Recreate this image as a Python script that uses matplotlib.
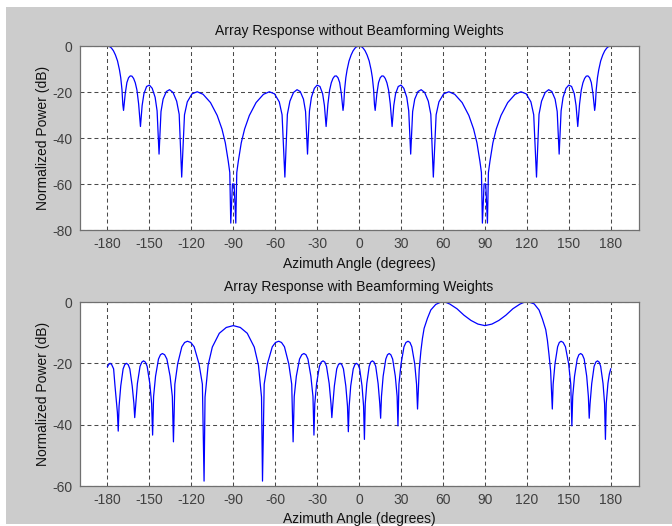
import matplotlib
matplotlib.use('Agg')
import matplotlib.pyplot as plt
from matplotlib.patches import Rectangle

plt.rcParams['font.family'] = ['Liberation Sans', 'DejaVu Sans']
plt.rcParams['axes.unicode_minus'] = False

# values (azimuth in degrees, power in dB)
az_top = [
    -180, -178, -177, -175.7, -174.3, -172.8, -171.4, -170.5, -169.6, -169, -168.5,
    -167.3, -166.1, -164.9, -163.7, -162.5, -161.3, -160.1, -158.9, -157.7, -156.4,
    -155.2, -153.9, -152, -150, -148, -145.9, -144.5, -143.1,
    -141.7, -140.2, -137.9, -135.6, -133.1, -130.5, -128.7, -126.9,
    -124.9, -122.9, -119.5, -115.8, -111.6, -106.3, -101.5, -98.1, -95.7, -93.6,
    -92.5, -91.8, -91.2, -90.6, -89.4, -88.8, -88.2, -87.5,
    -86.4, -84.3, -81.9, -78.5, -73.7, -68.4, -64.2, -60.5, -57.1, -55.1, -53.1,
    -51.3, -49.5, -46.9, -44.4, -42.1, -39.8, -38.3, -36.9,
    -35.5, -34.1, -32, -30, -28, -26.1, -24.8, -23.6,
    -22.3, -21.1, -19.9, -18.7, -17.5, -16.3, -15.1, -13.9, -12.7, -11.5,
    -11, -10.4, -9.5, -8.6, -7.2, -5.7, -4.3, -3, -2,
    0,
    2, 3, 4.3, 5.7, 7.2, 8.6, 9.5, 10.4, 11, 11.5,
    12.7, 13.9, 15.1, 16.3, 17.5, 18.7, 19.9, 21.1, 22.3, 23.6,
    24.8, 26.1, 28, 30, 32, 34.1, 35.5, 36.9,
    38.3, 39.8, 42.1, 44.4, 46.9, 49.5, 51.3, 53.1,
    55.1, 57.1, 60.5, 64.2, 68.4, 73.7, 78.5, 81.9, 84.3, 86.4,
    87.5, 88.2, 88.8, 89.4, 90.6, 91.2, 91.8, 92.5,
    93.6, 95.7, 98.1, 101.5, 106.3, 111.6, 115.8, 119.5, 122.9, 124.9, 126.9,
    128.7, 130.5, 133.1, 135.6, 137.9, 140.2, 141.7, 143.1,
    144.5, 145.9, 148, 150, 152, 153.9, 155.2, 156.4,
    157.7, 158.9, 160.1, 161.3, 162.5, 163.7, 164.9, 166.1, 167.3, 168.5,
    169, 169.6, 170.5, 171.4, 172.8, 174.3, 175.7, 177, 178, 180,
]
pwr_top = [
    0, -0.4, -1.0, -2.1, -3.9, -6.5, -10.4, -13.8, -19.1, -25.5, -28,
    -20.8, -15.9, -13.8, -13.0, -13.1, -14.1, -16.0, -19.2, -25.2, -35,
    -25.9, -20.7, -17.6, -17, -18.4, -22.3, -28.2, -47,
    -28.5, -23.1, -19.8, -19, -20.2, -24, -29.7, -57,
    -29.9, -24.3, -20.8, -19.9, -21, -24.6, -30.2, -36.1, -42.1, -50.1,
    -55, -77, -69, -60, -60, -69, -77, -55,
    -50.1, -42.1, -36.1, -30.2, -24.6, -21, -19.9, -20.8, -24.3, -29.9, -57,
    -29.7, -24, -20.2, -19, -19.8, -23.1, -28.5, -47,
    -28.2, -22.3, -18.4, -17, -17.6, -20.7, -25.9, -35,
    -25.2, -19.2, -16.0, -14.1, -13.1, -13.0, -13.8, -15.9, -20.8, -28,
    -25.5, -19.1, -13.8, -10.4, -6.5, -3.9, -2.1, -1.0, -0.4,
    0,
    -0.4, -1.0, -2.1, -3.9, -6.5, -10.4, -13.8, -19.1, -25.5, -28,
    -20.8, -15.9, -13.8, -13.0, -13.1, -14.1, -16.0, -19.2, -25.2, -35,
    -25.9, -20.7, -17.6, -17, -18.4, -22.3, -28.2, -47,
    -28.5, -23.1, -19.8, -19, -20.2, -24, -29.7, -57,
    -29.9, -24.3, -20.8, -19.9, -21, -24.6, -30.2, -36.1, -42.1, -50.1,
    -55, -77, -69, -60, -60, -69, -77, -55,
    -50.1, -42.1, -36.1, -30.2, -24.6, -21, -19.9, -20.8, -24.3, -29.9, -57,
    -29.7, -24, -20.2, -19, -19.8, -23.1, -28.5, -47,
    -28.2, -22.3, -18.4, -17, -17.6, -20.7, -25.9, -35,
    -25.2, -19.2, -16.0, -14.1, -13.1, -13.0, -13.8, -15.9, -20.8, -28,
    -25.5, -19.1, -13.8, -10.4, -6.5, -3.9, -2.1, -1.0, -0.4, 0,
]

az_bot = [
    -180, -179, -178.1, -177, -175.6, -174.6, -172.9, -172.3,
    -171.7, -170.5, -168.8, -167.6, -166.4, -165.2, -164.0, -162.3, -161.1, -160.5,
    -159.7, -158.6, -156.7, -155.4, -154.2, -152.9, -151.6, -149.7, -148.4, -147.7,
    -147.0, -145.6, -143.5, -142.1, -140.7, -139.1, -137.5, -135.2, -133.6, -132.8,
    -131.8, -129.8, -126.8, -124.8, -122.8, -120.4, -118.0, -114.5, -112.1, -110.9,
    -110.2, -108, -105, -100, -95, -90, -85, -80, -75, -72, -69.8, -69.1,
    -67.9, -65.6, -62.1, -59.8, -57.5, -55.5, -53.4, -50.3, -48.2, -47.2,
    -46.4, -44.9, -42.6, -41.0, -39.5, -38.0, -36.6, -34.5, -33.0, -32.3,
    -31.7, -30.4, -28.4, -27.1, -25.8, -24.5, -23.3, -21.4, -20.1, -19.5,
    -18.9, -17.7, -16.0, -14.8, -13.6, -12.4, -11.2, -9.5, -8.3, -7.7,
    -7.1, -6.0, -4.2, -3.0, -1.9, -0.7, 0.4, 2.1, 3.2, 3.8,
    4.4, 5.5, 7.2, 8.3, 9.5, 10.7, 11.9, 13.6, 14.8, 15.4,
    16.0, 17.2, 19.1, 20.3, 21.5, 22.7, 24.0, 25.9, 27.2, 27.8,
    28.5, 30.0, 32.1, 33.5, 35.0, 36.4, 37.7, 39.8, 41.1, 41.8,
    43.0, 44.2, 45.3, 46.5, 48.9, 51.3, 54.8, 58.4, 60, 62, 65, 70, 75, 80, 85,
    90, 95, 100, 105, 110, 115, 118, 120, 121.6, 125.2, 128.7, 131.1, 133.5,
    134.7, 135.8, 137.0, 138.2,
    138.8, 140.1, 142.0, 143.2, 144.5, 146.0, 147.6, 149.9, 151.4, 152.2,
    152.8, 154.1, 156.0, 157.2, 158.5, 159.7, 161.0, 162.8, 164.0, 164.6,
    165.2, 166.4, 168.1, 169.3, 170.5, 171.7, 172.8, 174.5, 175.6, 176.2,
    176.8, 178, 179, 180,
]
pwr_bot = [
    -21.1, -20.3, -20.0, -20.4, -21.8, -27.4, -36.0, -42.1,
    -34.0, -27.4, -21.8, -20.4, -20.0, -20.4, -21.8, -27.4, -33.0, -37.7,
    -33.2, -26.6, -21.0, -19.6, -19.2, -19.6, -21.0, -26.6, -33.2, -43.4,
    -30.8, -24.2, -18.6, -17.2, -16.8, -17.2, -18.6, -24.2, -30.8, -45.6,
    -26.8, -20.2, -14.6, -13.2, -12.8, -13.2, -14.6, -20.2, -26.8, -58.4,
    -31.0, -20.6, -14.7, -10.2, -8.3, -7.7, -8.3, -10.2, -14.7, -20.6, -31.0, -58.4,
    -26.8, -20.2, -14.6, -13.2, -12.8, -13.2, -14.6, -20.2, -26.8, -45.6,
    -30.8, -24.2, -18.6, -17.2, -16.8, -17.2, -18.6, -24.2, -30.8, -43.4,
    -33.2, -26.6, -21.0, -19.6, -19.2, -19.6, -21.0, -26.6, -33.2, -37.7,
    -34.0, -27.4, -21.8, -20.4, -20.0, -20.4, -21.8, -27.4, -34.0, -42.3,
    -34.0, -27.4, -21.8, -20.4, -20.0, -20.4, -21.8, -27.4, -34.0, -44.8,
    -33.2, -26.6, -21.0, -19.6, -19.2, -19.6, -21.0, -26.6, -33.2, -37.9,
    -30.8, -24.2, -18.6, -17.2, -16.8, -17.2, -18.6, -24.2, -30.8, -40.4,
    -26.8, -20.2, -14.6, -13.2, -12.8, -13.2, -14.6, -20.2, -26.8, -34.9,
    -22.0, -16.0, -11.9, -8.6, -5.3, -2.6, -0.8, -0.05, 0, -0.1, -0.7, -2.2, -4.3, -6.0, -7.2,
    -7.7, -7.2, -6.0, -4.3, -2.2, -0.7, -0.1, 0, -0.05, -0.6, -2.6, -5.5, -9.0,
    -12.5, -17.0, -22.5, -34.9,
    -26.8, -20.2, -14.6, -13.2, -12.8, -13.2, -14.6, -20.2, -26.8, -40.4,
    -30.8, -24.2, -18.6, -17.2, -16.8, -17.2, -18.6, -24.2, -30.8, -37.9,
    -33.2, -26.6, -21.0, -19.6, -19.2, -19.6, -21.0, -26.6, -33.2, -44.8,
    -33.0, -26.5, -23.5, -21.8,
]

az_ticks = list(range(-180, 181, 30))


def draw_panel(ax, az, pwr, title, ylim, yticks):
    ax.plot(az, pwr, color='#0000ff', linewidth=0.9)
    ax.set_xlim(-200, 200)
    ax.set_ylim(*ylim)
    ax.set_xticks(az_ticks)
    ax.set_yticks(yticks)
    ax.grid(True, color='#4a4a4a', linestyle=(0, (3.8, 2.9)), linewidth=0.75)
    ax.tick_params(direction='in', length=0, labelsize=10, colors='#404040', pad=5)
    for s in ax.spines.values():
        s.set_color('#707070')
        s.set_linewidth(0.9)
    ax.set_facecolor('white')
    ax.set_title(title, fontsize=10, color='#111111', pad=8)
    ax.set_xlabel('Azimuth Angle (degrees)', fontsize=10, color='#111111', labelpad=4)
    ax.set_ylabel('Normalized Power (dB)', fontsize=10, color='#111111', labelpad=2)


fig = plt.figure(figsize=(6.72, 5.26), dpi=100, facecolor='white')
fig.patches.append(Rectangle((6 / 672, 2 / 526), 1 - 6 / 672, 1 - 9 / 526,
                             transform=fig.transFigure, facecolor='#cccccc',
                             edgecolor='none', zorder=-1))

ax1 = fig.add_axes([79.5 / 672, 1 - 230 / 526, 559.2 / 672, 184 / 526])
draw_panel(ax1, az_top, pwr_top, 'Array Response without Beamforming Weights',
           (-80, 0), [-80, -60, -40, -20, 0])

ax2 = fig.add_axes([79.5 / 672, 1 - 486 / 526, 559.2 / 672, 184 / 526])
draw_panel(ax2, az_bot, pwr_bot, 'Array Response with Beamforming Weights',
           (-60, 0), [-60, -40, -20, 0])

fig.savefig('out.png', dpi=100, facecolor=fig.get_facecolor())
